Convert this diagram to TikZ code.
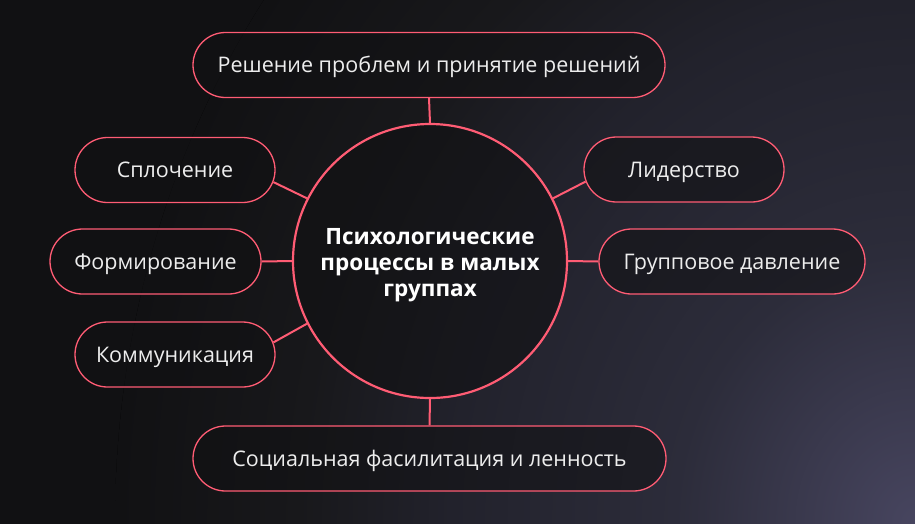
\documentclass[tikz,border=0pt]{standalone}
\usepackage{fontspec}
\setmainfont{Open Sans}
\usetikzlibrary{shapes.misc,calc}
\definecolor{pinkline}{HTML}{FF5C74}
\definecolor{bgA}{HTML}{47455F}
\definecolor{bgB}{HTML}{2C2C3A}
\definecolor{bgC}{HTML}{22222C}
\definecolor{bgD}{HTML}{18181B}
\definecolor{bgE}{HTML}{111113}
\definecolor{pillfill}{HTML}{111113}
\definecolor{txt}{HTML}{EDEDED}
\pgfdeclareradialshading{bgshade}{\pgfpoint{0bp}{0bp}}{color(0bp)=(bgA); color(7.5bp)=(bgB); color(14.5bp)=(bgC); color(19.25bp)=(bgD); color(25bp)=(bgE); color(50bp)=(bgE)}
\tikzset{
  pill/.style={rounded rectangle, draw=pinkline, line width=1.3pt, fill=pillfill, fill opacity=0.55, text opacity=1, text=txt, minimum height=65pt, inner sep=0pt, text height=15.4pt, text depth=0pt, font=\fontsize{21.5}{24}\selectfont},
  hub/.style={circle, draw=pinkline, line width=2.2pt, fill=pillfill, fill opacity=0.6, minimum size=274pt, inner sep=0pt},
  hubtext/.style={text=white, align=center, inner sep=0pt, font=\fontsize{22.5}{26}\selectfont\bfseries},
  link/.style={draw=pinkline, line width=2pt}
}
\begin{document}
\begin{tikzpicture}[x=1pt,y=-1pt]
\useasboundingbox (0,0) rectangle (915,523);
\fill[bgE] (-5,-5) rectangle (920,528);
\begin{scope}
\clip (-5,-5) rectangle (920,528);
\fill[shading=bgshade] (915,523) ellipse (800 and 900);
\end{scope}
\node[hub] (c) at (430,261) {};
\node[hubtext, yshift=-4pt] (ct) at (c.center) {Психологические\\процессы в малых\\группах};
\node[pill, minimum width=472pt] (top) at (429,65) {Решение проблем и принятие решений};
\node[pill, minimum width=200pt] (spl) at (175,170) {Сплочение};
\node[pill, minimum width=211pt] (form) at (155.5,261.5) {Формирование};
\node[pill, minimum width=200pt] (kom) at (175,354.5) {Коммуникация};
\node[pill, minimum width=200pt] (lid) at (684,169.5) {Лидерство};
\node[pill, minimum width=266pt] (grp) at (732,261.5) {Групповое давление};
\node[pill, minimum width=473pt] (bot) at (429.5,458.5) {Социальная фасилитация и ленность};
\draw[link] (top.south) -- (c.north);
\draw[link] (c.south) -- (bot.north);
\draw[link] (c.153) -- (spl.353);
\draw[link] (c.207) -- (kom.7);
\draw[link] (c.27) -- (lid.187);
\draw[link] (c.west) -- (form.east);
\draw[link] (c.east) -- (grp.west);
\end{tikzpicture}
\end{document}
